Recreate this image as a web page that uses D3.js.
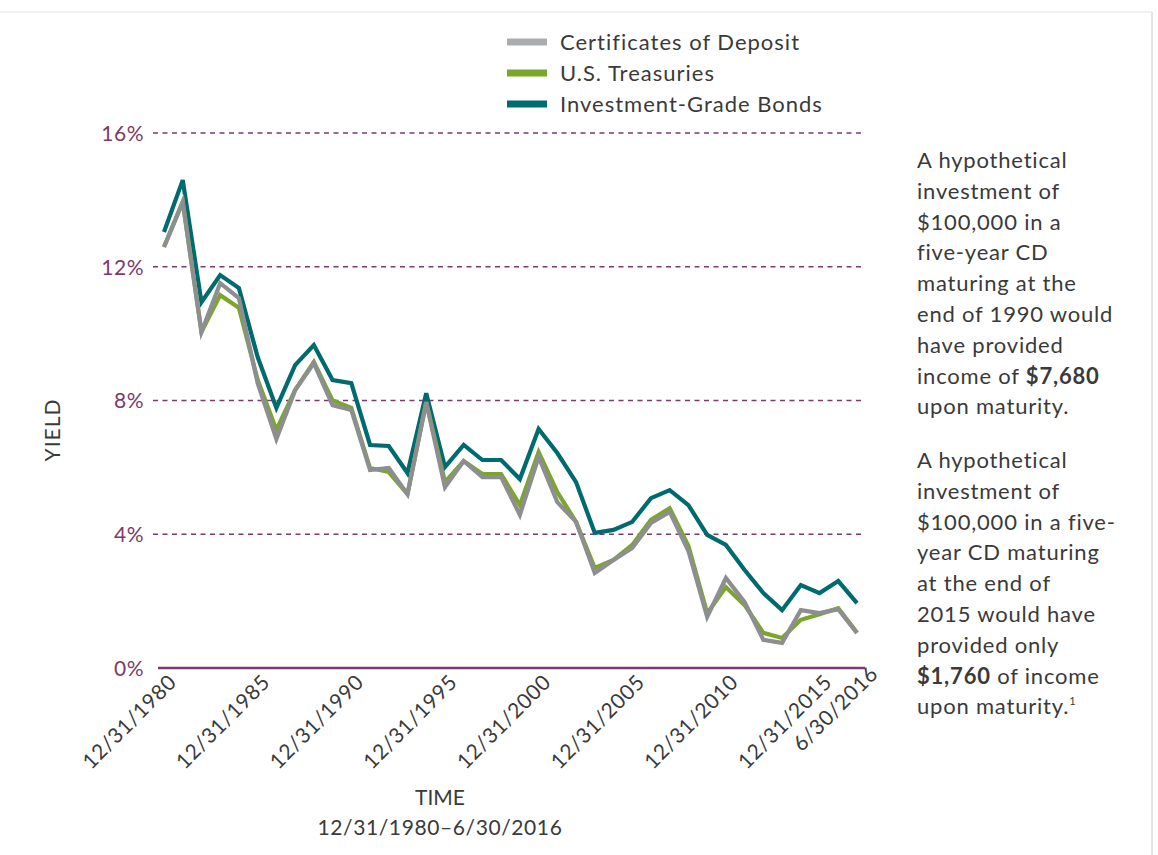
<!DOCTYPE html>
<html>
<head>
<meta charset="utf-8">
<script src="https://cdn.jsdelivr.net/npm/d3@7"></script>
<style>
  body { margin: 0; background: #fff; }
  svg { display: block; font-family: Lato, "Noto Sans", sans-serif; }
</style>
</head>
<body>
<div id="chart"></div>
<script>
// year-end yields (%), 12/31/1980 ... 6/30/2016
let cdYield = [12.59, 13.94, 10.05, 11.51, 11.06, 8.52, 6.85, 8.31, 9.12, 7.86,
               7.72, 5.92, 5.98, 5.2, 7.95, 5.41, 6.19, 5.71, 5.71, 4.58,
               6.31, 4.96, 4.37, 2.84, 3.23, 3.59, 4.34, 4.67, 3.5, 1.53,
               2.69, 1.97, 0.84, 0.75, 1.73, 1.64, 1.76, 1.05];
let treasuryYield = [12.59, 13.94, 10.05, 11.15, 10.77, 8.62, 7.12, 8.31, 9.15, 8.0,
                     7.78, 5.98, 5.86, 5.2, 7.95, 5.56, 6.19, 5.8, 5.8, 4.87,
                     6.46, 5.26, 4.37, 2.99, 3.23, 3.68, 4.43, 4.78, 3.65, 1.64,
                     2.42, 1.88, 1.05, 0.9, 1.44, 1.61, 1.79, 1.05];
let bondYield = [13.04, 14.59, 10.94, 11.75, 11.36, 9.3, 7.78, 9.06, 9.66, 8.61,
                 8.52, 6.67, 6.64, 5.83, 8.22, 6.01, 6.67, 6.22, 6.22, 5.65,
                 7.15, 6.43, 5.56, 4.04, 4.13, 4.37, 5.08, 5.32, 4.87, 3.98,
                 3.68, 2.93, 2.24, 1.73, 2.48, 2.24, 2.6, 1.94];

let seriesNames = ["Investment-Grade Bonds", "U.S. Treasuries", "Certificates of Deposit"];
let legendOrder = ["Certificates of Deposit", "U.S. Treasuries", "Investment-Grade Bonds"];

let tickIndex = [0, 5, 10, 15, 20, 25, 30, 35, 37];
let tickLabels = ["12/31/1980", "12/31/1985", "12/31/1990", "12/31/1995", "12/31/2000",
                  "12/31/2005", "12/31/2010", "12/31/2015", "6/30/2016"];
let yTicks = [0, 4, 8, 12, 16];

let noteOne = [["A hypothetical"], ["investment of"], ["$100,000 in a"], ["five-year CD"],
               ["maturing at the"], ["end of 1990 would"], ["have provided"],
               ["income of ", "$7,680"], ["upon maturity."]];
let noteTwo = [["A hypothetical"], ["investment of"], ["$100,000 in a five-"], ["year CD maturing"],
               ["at the end of"], ["2015 would have"], ["provided only"],
               ["", "$1,760", " of income"], ["upon maturity.", "", "", "1"]];

let lineColors = {"Investment-Grade Bonds": "#006b6e", "U.S. Treasuries": "#7ca52e", "Certificates of Deposit": "#8d8e90"};
let swatchColors = {"Investment-Grade Bonds": "#006b6e", "U.S. Treasuries": "#7ca52e", "Certificates of Deposit": "#a9adb0"};
let purple = "#7b3a6b";
let textColor = "#3a3a3a";

let W = 1158, H = 855;
let svg = d3.select("#chart").append("svg")
    .attr("width", W)
    .attr("height", H);

svg.append("rect").attr("width", W).attr("height", H).style("fill", "#fff");
// faint card edge
svg.append("line").attr("x1", 0).attr("x2", 1152).attr("y1", 12).attr("y2", 12)
    .style("stroke", "#ececec").style("stroke-width", 1.5);
svg.append("line").attr("x1", 1152).attr("x2", 1152).attr("y1", 12).attr("y2", H)
    .style("stroke", "#e4e4e4").style("stroke-width", 2);

let x = d3.scaleLinear().domain([0, 37]).range([164, 857]);
let y = d3.scaleLinear().domain([0, 16]).range([668, 133]);

// gridlines
svg.append("g")
    .selectAll("line")
    .data(yTicks.filter(d => d > 0))
    .enter()
    .append("line")
    .attr("x1", 153)
    .attr("x2", 865)
    .attr("y1", d => y(d))
    .attr("y2", d => y(d))
    .style("stroke", purple)
    .style("stroke-width", 1.6)
    .style("stroke-dasharray", "5,4.5");

// baseline
svg.append("line")
    .attr("x1", 158).attr("x2", 865)
    .attr("y1", y(0)).attr("y2", y(0))
    .style("stroke", purple)
    .style("stroke-width", 2.5);

// y axis labels
let yAxis = d3.axisLeft(y).tickValues(yTicks).tickFormat(d => d + "%").tickSize(0).tickPadding(0);
let yg = svg.append("g").attr("transform", "translate(144,0)").call(yAxis);
yg.select(".domain").remove();
yg.selectAll("text")
    .style("font-family", "Lato, sans-serif")
    .style("font-size", "21px")
    .style("letter-spacing", "0.5px")
    .style("fill", purple)
    .attr("dy", "0.35em");

// x axis labels
let xAxis = d3.axisBottom(x).tickValues(tickIndex)
    .tickFormat((d, i) => tickLabels[i]).tickSize(0).tickPadding(0);
let xg = svg.append("g").attr("transform", "translate(0,676)").call(xAxis);
xg.select(".domain").remove();
xg.selectAll("text")
    .style("font-family", "Lato, sans-serif")
    .style("font-size", "21px")
    .style("letter-spacing", "0.6px")
    .style("fill", textColor)
    .style("text-anchor", "end")
    .attr("dy", "0.7em")
    .attr("y", 0)
    .attr("x", (d, i) => i == tickIndex.length - 1 ? 16 : 4)
    .attr("transform", "rotate(-45)");

// lines
let seriesData = {"Investment-Grade Bonds": bondYield, "U.S. Treasuries": treasuryYield, "Certificates of Deposit": cdYield};
let line = d3.line().x((d, i) => x(i)).y(d => y(d));
svg.append("g")
    .selectAll("path")
    .data(seriesNames)
    .enter()
    .append("path")
    .attr("d", d => line(seriesData[d]))
    .style("fill", "none")
    .style("stroke", d => lineColors[d])
    .style("stroke-width", 4.2)
    .style("stroke-linejoin", "miter");

// legend
let leg = svg.append("g")
    .selectAll("g")
    .data(legendOrder)
    .enter()
    .append("g")
    .attr("transform", (d, i) => "translate(507," + (42 + i * 31) + ")");
leg.append("rect")
    .attr("x", 0).attr("y", -3.5)
    .attr("width", 40).attr("height", 7)
    .style("fill", d => swatchColors[d]);
leg.append("text")
    .attr("x", 53).attr("y", 0).attr("dy", "0.35em")
    .text(d => d)
    .style("font-size", "22px")
    .style("letter-spacing", "1px")
    .style("fill", textColor);

// axis titles
svg.append("text")
    .attr("transform", "translate(60,430) rotate(-90)")
    .style("text-anchor", "middle")
    .style("font-size", "21px")
    .style("letter-spacing", "1px")
    .style("fill", textColor)
    .text("YIELD");
svg.append("text")
    .attr("x", 440).attr("y", 805)
    .style("text-anchor", "middle")
    .style("font-size", "21px")
    .style("fill", textColor)
    .text("TIME");
svg.append("text")
    .attr("x", 440).attr("y", 835)
    .style("text-anchor", "middle")
    .style("font-size", "21px")
    .style("letter-spacing", "0.6px")
    .style("fill", textColor)
    .text("12/31/1980–6/30/2016");

// side notes
function note(lines, top) {
    let t = svg.append("text")
        .style("font-size", "22px")
        .style("letter-spacing", "0.8px")
        .style("fill", textColor);
    lines.forEach(function (parts, i) {
        let row = t.append("tspan").attr("x", 917).attr("y", top + i * 30.8);
        row.append("tspan").text(parts[0]);
        if (parts[1]) row.append("tspan").style("font-weight", "bold").text(parts[1]);
        if (parts[2]) row.append("tspan").text(parts[2]);
        if (parts[3]) row.append("tspan").style("font-size", "11px").attr("dy", "-9").text(parts[3]);
    });
}
note(noteOne, 168);
note(noteTwo, 468);
</script>
</body>
</html>
